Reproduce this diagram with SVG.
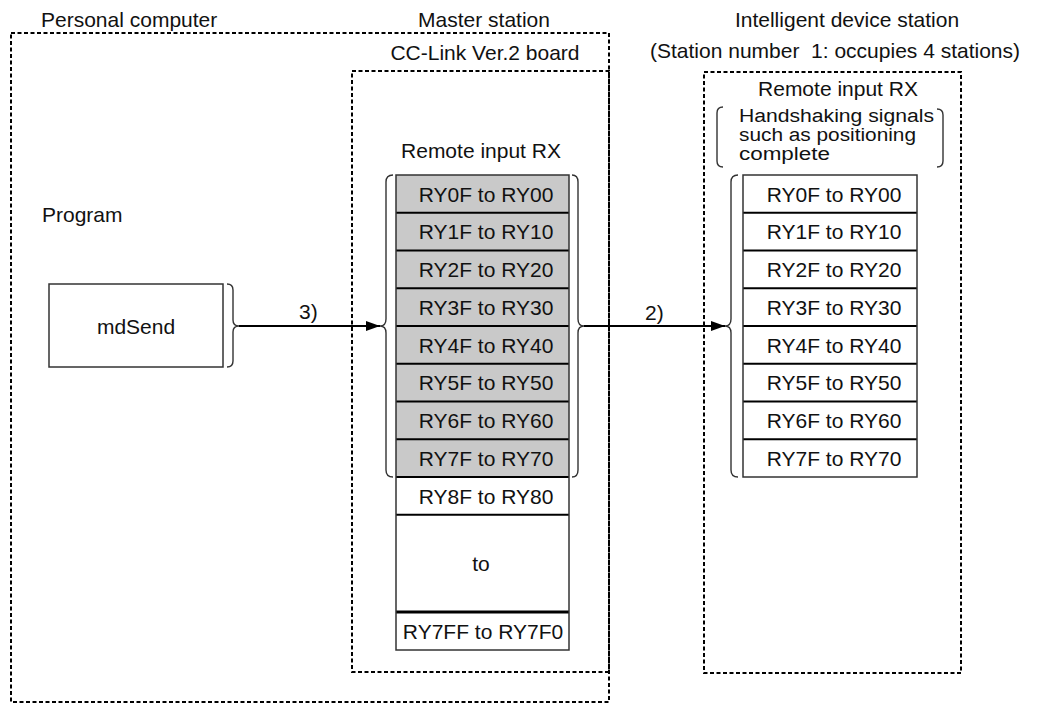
<svg xmlns="http://www.w3.org/2000/svg" width="1038" height="704" viewBox="0 0 1038 704">
<style>
text{font-family:"Liberation Sans",Arial,sans-serif;font-size:21px;fill:#111}
.c{text-anchor:middle}
.hs{font-size:18px}
.dash{fill:none;stroke:#000;stroke-width:2;stroke-dasharray:4 2.5}
.cell{stroke:#333;stroke-width:1.5}
.sep{stroke:#000;stroke-width:2}
.br{fill:none;stroke:#333;stroke-width:1.4}
.ar{stroke:#000;stroke-width:2;fill:none;marker-end:url(#ah)}
</style>
<defs>
<marker id="ah" markerUnits="userSpaceOnUse" markerWidth="14" markerHeight="10" refX="14" refY="5" orient="auto"><path d="M0,0 L14,5 L0,10 z" fill="#000"/></marker>
</defs>
<rect width="1038" height="704" fill="#fff"/>

<g id="pc">
<rect class="dash" x="11" y="33" width="598" height="669"/>
<text x="41" y="27">Personal computer</text>
<text x="42" y="222">Program</text>
</g>

<g id="mdsend">
<rect x="49" y="284" width="174" height="83" fill="#fff" class="cell"/>
<text class="c" x="136" y="334">mdSend</text>
<path class="br" d="M227,284 Q233,284 233,290 L233,320 Q233,326 239,326 Q233,326 233,332 L233,361 Q233,367 227,367"/>
</g>

<g id="master">
<text class="c" x="484" y="27">Master station</text>
<text class="c" x="485" y="60">CC-Link Ver.2 board</text>
<rect class="dash" x="352" y="71" width="257" height="601"/>
<text class="c" x="481" y="158">Remote input RX</text>
<rect x="396" y="175" width="173" height="302" fill="#c9c9c9"/>
<rect x="396" y="477" width="173" height="173" fill="#fff"/>
<g class="sep">
<line x1="396" y1="212.75" x2="569" y2="212.75"/>
<line x1="396" y1="250.5" x2="569" y2="250.5"/>
<line x1="396" y1="288.25" x2="569" y2="288.25"/>
<line x1="396" y1="326" x2="569" y2="326"/>
<line x1="396" y1="363.75" x2="569" y2="363.75"/>
<line x1="396" y1="401.5" x2="569" y2="401.5"/>
<line x1="396" y1="439.25" x2="569" y2="439.25"/>
<line x1="396" y1="477" x2="569" y2="477"/>
<line x1="396" y1="514.75" x2="569" y2="514.75"/>
<line x1="396" y1="612" x2="569" y2="612" stroke-width="3"/>
</g>
<rect x="396" y="175" width="173" height="475" fill="none" class="cell"/>
<text class="c" x="486" y="201.5">RY0F to RY00</text>
<text class="c" x="486" y="239.25">RY1F to RY10</text>
<text class="c" x="486" y="277">RY2F to RY20</text>
<text class="c" x="486" y="314.75">RY3F to RY30</text>
<text class="c" x="486" y="352.5">RY4F to RY40</text>
<text class="c" x="486" y="390.25">RY5F to RY50</text>
<text class="c" x="486" y="428">RY6F to RY60</text>
<text class="c" x="486" y="465.75">RY7F to RY70</text>
<text class="c" x="486" y="503.5">RY8F to RY80</text>
<text class="c" x="481" y="571">to</text>
<text class="c" x="483" y="638.5">RY7FF to RY7F0</text>
<path class="br" d="M393,175 Q386,175 386,182 L386,319 Q386,326 380,326 Q386,326 386,333 L386,470 Q386,477 393,477"/>
<path class="br" d="M572,175 Q578,175 578,182 L578,319 Q578,326 584,326 Q578,326 578,333 L578,470 Q578,477 572,477"/>
</g>

<g id="intelligent">
<text class="c" x="847" y="27">Intelligent device station</text>
<text x="650" y="58">(Station number&#160; 1: occupies 4 stations)</text>
<rect class="dash" x="704" y="72" width="257" height="601"/>
<text class="c" x="838" y="96">Remote input RX</text>
<text class="hs" x="739" y="122" textLength="195" lengthAdjust="spacingAndGlyphs">Handshaking signals</text>
<text class="hs" x="739" y="141" textLength="177" lengthAdjust="spacingAndGlyphs">such as positioning</text>
<text class="hs" x="739" y="160" textLength="91" lengthAdjust="spacingAndGlyphs">complete</text>
<path class="br" d="M723,107 Q717,107 717,113 L717,161 Q717,167 723,167"/>
<path class="br" d="M937,109 Q943,109 943,115 L943,161 Q943,167 937,167"/>
<rect x="743" y="175" width="174" height="302" fill="#fff"/>
<g class="sep">
<line x1="743" y1="212.75" x2="917" y2="212.75"/>
<line x1="743" y1="250.5" x2="917" y2="250.5"/>
<line x1="743" y1="288.25" x2="917" y2="288.25"/>
<line x1="743" y1="326" x2="917" y2="326"/>
<line x1="743" y1="363.75" x2="917" y2="363.75"/>
<line x1="743" y1="401.5" x2="917" y2="401.5"/>
<line x1="743" y1="439.25" x2="917" y2="439.25"/>
</g>
<rect x="743" y="175" width="174" height="302" fill="none" class="cell"/>
<text class="c" x="834" y="201.5">RY0F to RY00</text>
<text class="c" x="834" y="239.25">RY1F to RY10</text>
<text class="c" x="834" y="277">RY2F to RY20</text>
<text class="c" x="834" y="314.75">RY3F to RY30</text>
<text class="c" x="834" y="352.5">RY4F to RY40</text>
<text class="c" x="834" y="390.25">RY5F to RY50</text>
<text class="c" x="834" y="428">RY6F to RY60</text>
<text class="c" x="834" y="465.75">RY7F to RY70</text>
<path class="br" d="M738,175 Q731,175 731,182 L731,319 Q731,326 725,326 Q731,326 731,333 L731,470 Q731,477 738,477"/>
</g>

<g id="connectors">
<line class="ar" x1="239" y1="326" x2="380" y2="326"/>
<text x="299" y="319">3)</text>
<line class="ar" x1="584" y1="326" x2="725" y2="326"/>
<text x="645" y="320">2)</text>
</g>
</svg>
